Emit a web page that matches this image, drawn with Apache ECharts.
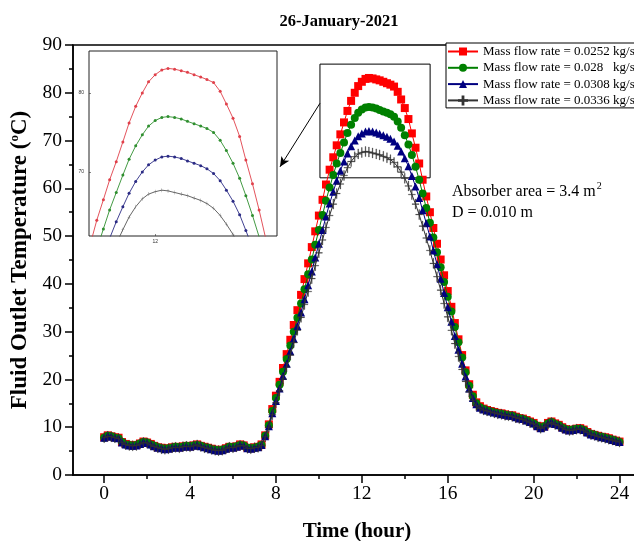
<!DOCTYPE html>
<html><head><meta charset="utf-8">
<script src="https://cdn.jsdelivr.net/npm/echarts@6/dist/echarts.min.js"></script>
<style>html,body{margin:0;padding:0;background:#fff}#c{width:634px;height:541px}</style>
</head><body><div id="c"></div>
<script>
// ---- data ----
const hours = [0,0.17,0.33,0.5,0.67,0.83,1,1.17,1.33,1.5,1.67,1.83,2,2.17,2.33,2.5,2.67,2.83,3,3.17,3.33,3.5,3.67,3.83,4,4.17,4.33,4.5,4.67,4.83,5,5.17,5.33,5.5,5.67,5.83,6,6.17,6.33,6.5,6.67,6.83,7,7.17,7.33,7.5,7.67,7.83,8,8.17,8.33,8.5,8.67,8.83,9,9.17,9.33,9.5,9.67,9.83,10,10.17,10.33,10.5,10.67,10.83,11,11.17,11.33,11.5,11.67,11.83,12,12.17,12.33,12.5,12.67,12.83,13,13.17,13.33,13.5,13.67,13.83,14,14.17,14.33,14.5,14.67,14.83,15,15.17,15.33,15.5,15.67,15.83,16,16.17,16.33,16.5,16.67,16.83,17,17.17,17.33,17.5,17.67,17.83,18,18.17,18.33,18.5,18.67,18.83,19,19.17,19.33,19.5,19.67,19.83,20,20.17,20.33,20.5,20.67,20.83,21,21.17,21.33,21.5,21.67,21.83,22,22.17,22.33,22.5,22.67,22.83,23,23.17,23.33,23.5,23.67,23.83,24];
const seriesNames = ['Mass flow rate = 0.0252 kg/s','Mass flow rate = 0.028   kg/s','Mass flow rate = 0.0308 kg/s','Mass flow rate = 0.0336 kg/s'];
const temp0252 = [7.9,8.3,8.1,7.9,7.8,6.9,6.5,6.3,6.2,6.3,6.6,7.0,6.8,6.5,6.1,5.8,5.7,5.5,5.6,5.8,5.9,5.8,6.0,6.1,6.0,6.2,6.4,6.1,5.9,5.7,5.5,5.3,5.2,5.3,5.6,5.9,5.8,6.0,6.4,6.2,5.7,5.6,5.8,5.9,6.4,
 8.3,10.6,13.8,16.6,19.5,22.4,25.3,28.3,31.4,34.5,37.7,41.0,44.3,47.7,51.0,54.3,57.6,60.8,63.9,66.5,69.0,71.3,73.8,76.2,78.3,80.0,81.4,82.3,82.9,83.1,83.0,82.8,82.6,82.3,82.0,81.7,81.3,80.2,78.6,76.8,74.5,71.5,68.5,65.2,61.8,58.3,55.0,51.7,48.4,45.1,41.8,38.5,35.2,31.8,28.4,25.1,21.9,19.0,16.8,15.2,
 14.4,13.9,13.6,13.4,13.2,13.0,12.9,12.7,12.5,12.5,12.2,11.9,11.8,11.5,11.2,10.9,10.3,9.9,10.2,10.9,11.2,10.8,10.5,10.0,9.6,9.4,9.5,9.7,9.8,9.5,9.0,8.6,8.4,8.2,8.0,7.9,7.7,7.4,7.2,7.0];
const temp0280 = [7.8,8.2,8.1,7.8,7.7,6.9,6.4,6.3,6.1,6.3,6.6,6.9,6.8,6.4,6.1,5.8,5.6,5.5,5.6,5.7,5.9,5.8,5.9,6.1,6.0,6.2,6.3,6.1,5.8,5.7,5.4,5.3,5.2,5.3,5.5,5.9,5.8,6.0,6.3,6.2,5.7,5.6,5.7,5.9,6.3,
 8.2,10.4,13.4,16.1,18.9,21.6,24.3,27.1,30.0,32.9,35.9,38.9,42.0,45.1,48.2,51.3,54.4,57.4,60.2,62.8,65.2,67.4,69.6,71.6,73.3,74.7,75.8,76.5,76.9,77.0,76.9,76.7,76.4,76.1,75.8,75.5,75.0,74.0,72.7,71.1,69.2,67.0,64.5,61.8,58.9,55.9,52.8,49.7,46.6,43.5,40.4,37.3,34.2,31.0,27.8,24.6,21.5,18.7,16.5,15.0,
 14.2,13.8,13.5,13.3,13.1,12.9,12.8,12.6,12.5,12.4,12.1,11.9,11.7,11.4,11.1,10.8,10.3,9.9,10.2,10.8,11.1,10.7,10.4,9.9,9.6,9.4,9.5,9.7,9.7,9.4,8.9,8.6,8.4,8.1,8.0,7.8,7.6,7.4,7.1,6.9];
const temp0308 = [7.8,8.2,8.0,7.8,7.7,6.8,6.4,6.2,6.1,6.2,6.5,6.9,6.7,6.4,6.0,5.7,5.6,5.4,5.5,5.7,5.8,5.7,5.9,6.0,5.9,6.1,6.3,6.0,5.8,5.6,5.4,5.2,5.1,5.2,5.5,5.8,5.7,5.9,6.3,6.1,5.6,5.5,5.7,5.8,6.3,
 8.1,10.2,12.9,15.5,18.1,20.7,23.3,25.9,28.5,31.2,34.0,36.8,39.7,42.6,45.5,48.4,51.3,54.1,56.8,59.3,61.6,63.7,65.6,67.3,68.8,70.0,70.9,71.5,71.9,72.0,71.9,71.7,71.4,71.1,70.8,70.4,69.8,68.9,67.7,66.3,64.6,62.6,60.4,58.0,55.4,52.7,49.9,47.0,44.1,41.1,38.1,35.1,32.1,29.1,26.2,23.3,20.6,18.1,16.1,14.8,
 14.1,13.7,13.5,13.3,13.1,12.9,12.7,12.6,12.4,12.4,12.1,11.8,11.7,11.4,11.1,10.8,10.2,9.8,10.1,10.8,11.1,10.7,10.4,9.9,9.5,9.3,9.4,9.6,9.7,9.4,8.9,8.5,8.3,8.1,7.9,7.8,7.6,7.3,7.1,6.9];
const temp0336 = [7.8,8.1,8.0,7.8,7.6,6.8,6.4,6.2,6.1,6.2,6.5,6.8,6.7,6.3,6.0,5.7,5.5,5.4,5.5,5.7,5.8,5.7,5.9,6.0,5.9,6.1,6.3,6.0,5.7,5.6,5.4,5.2,5.1,5.2,5.5,5.8,5.7,5.9,6.2,6.1,5.6,5.5,5.7,5.8,6.2,
 8.0,10.0,12.6,15.1,17.6,20.1,22.6,25.1,27.7,30.3,33.0,35.7,38.4,41.1,43.8,46.5,49.2,51.8,54.3,56.7,58.9,60.9,62.7,64.3,65.6,66.6,67.2,67.5,67.7,67.6,67.4,67.2,67.0,66.7,66.4,66.0,65.4,64.5,63.4,62.1,60.5,58.7,56.7,54.5,52.1,49.6,47.0,44.3,41.5,38.7,35.9,33.1,30.3,27.5,24.8,22.1,19.6,17.4,15.6,14.5,
 14.0,13.6,13.4,13.2,13.0,12.8,12.7,12.5,12.4,12.3,12.0,11.8,11.6,11.3,11.0,10.7,10.2,9.8,10.1,10.7,11.0,10.6,10.3,9.9,9.5,9.3,9.4,9.6,9.6,9.3,8.9,8.5,8.3,8.0,7.9,7.7,7.5,7.3,7.1,6.9];
const xTickValues = [0,4,8,12,16,20,24];
const xMinorTickValues = [2,6,10,14,18,22];
const insetXTicks = [12];
const insetYTicks = [70,80];
const zoomBoxX = [10.05, 15.18];
const zoomBoxY = [62.2, 86];
const arrowFrom = [10.05, 77.8];
const arrowTo = [8.19, 64.5];

// ---- chart ----
const serif = "'Liberation Serif','Times New Roman',serif";
const allTemps = [temp0252, temp0280, temp0308, temp0336];
const mainColors = ['#ff0000', '#008000', '#000080', '#333333'];
const insetColors = ['#e0404a', '#2f8f2f', '#2b2b85', '#555555'];
const plusPath = 'path://M9,0h2v20h-2zM0,9.4h20v1.2H0z';
const symbols = ['rect', 'circle', 'triangle', plusPath];
const mainSizes = [8, 8, 8, [7, 10]];
function pairs(v) { return hours.map((h, i) => [h, v[i]]); }

const series = [];
allTemps.forEach((v, k) => {
  const s = {
    name: seriesNames[k], type: 'line', xAxisIndex: 0, yAxisIndex: 0,
    data: pairs(v), symbol: symbols[k], symbolSize: mainSizes[k], showAllSymbol: true,
    lineStyle: { color: mainColors[k], width: 1 },
    itemStyle: { color: mainColors[k], borderWidth: 0 },
    z: 2 + k
  };
  if (k === 3) s.itemStyle = { color: mainColors[k], borderColor: mainColors[k], borderWidth: 0.3 };
  if (k === 0) {
    s.markArea = { silent: true, itemStyle: { color: 'rgba(0,0,0,0)', borderColor: '#000', borderWidth: 1 },
      data: [[{ coord: [zoomBoxX[0], zoomBoxY[1]] }, { coord: [zoomBoxX[1], zoomBoxY[0]] }]] };
    s.markLine = { silent: true, symbol: ['none', 'arrow'], symbolSize: [7, 10], label: { show: false },
      lineStyle: { color: '#000', width: 1, type: 'solid' },
      data: [[{ coord: arrowFrom }, { coord: arrowTo }]] };
  }
  series.push(s);
});
allTemps.forEach((v, k) => {
  series.push({
    name: 'inset' + k, type: 'line', xAxisIndex: 1, yAxisIndex: 1, clip: true,
    data: pairs(v), symbol: k === 3 ? plusPath : 'circle', symbolSize: k === 3 ? [3, 4] : 3, showAllSymbol: true,
    lineStyle: { color: insetColors[k], width: 0.9 },
    itemStyle: { color: insetColors[k] }, z: 10 + k
  });
});

const option = {
  animation: false,
  backgroundColor: '#fff',
  title: { text: '26-January-2021', left: 334, top: 8, textAlign: 'center',
    textStyle: { fontFamily: serif, fontWeight: 'bold', fontSize: 16.5, color: '#000' } },
  legend: {
    data: seriesNames, orient: 'vertical', left: 446, top: 43,
    itemWidth: 30, itemHeight: 10, itemGap: 3.3, padding: [2, 2, 1, 1],
    borderColor: '#000', borderWidth: 1, backgroundColor: '#fff',
    textStyle: { fontFamily: serif, fontSize: 13, color: '#000' }
  },
  grid: [
    { left: 73, top: 45, right: -7, bottom: 66, outerBoundsMode: 'none', containLabel: false, show: true, borderColor: '#000', borderWidth: 1.5, backgroundColor: 'transparent' },
    { left: 89, top: 51, width: 188, height: 185, outerBoundsMode: 'none', containLabel: false, show: true, borderColor: '#222', borderWidth: 1, backgroundColor: '#fff' },
    { left: 73, top: 45, right: -7, bottom: 66, outerBoundsMode: 'none', containLabel: false, show: false }
  ],
  xAxis: [
    { gridIndex: 0, type: 'value', min: -1.45, max: 25,
      axisLine: { onZero: false, lineStyle: { color: '#000', width: 1.5 } },
      axisTick: { customValues: xTickValues, length: 8, lineStyle: { color: '#000', width: 1.5 } },
      axisLabel: { customValues: xTickValues, fontFamily: serif, fontSize: 19.5, color: '#000', margin: 9 },
      splitLine: { show: false },
      name: 'Time (hour)', nameLocation: 'middle', nameGap: 46,
      nameTextStyle: { fontFamily: serif, fontWeight: 'bold', fontSize: 21, color: '#000' } },
    { gridIndex: 1, type: 'value', min: 10.3, max: 15.13,
      axisLine: { show: false },
      axisTick: { customValues: insetXTicks, length: 2, inside: true, lineStyle: { color: '#333', width: 0.6 } },
      axisLabel: { customValues: insetXTicks, fontSize: 5, color: '#333', margin: 3 },
      splitLine: { show: false } },
    { gridIndex: 2, type: 'value', min: -1.45, max: 25,
      axisLine: { show: false, onZero: false },
      axisTick: { customValues: xMinorTickValues, length: 4, lineStyle: { color: '#000', width: 1.5 } },
      axisLabel: { show: false }, splitLine: { show: false } }
  ],
  yAxis: [
    { gridIndex: 0, type: 'value', min: 0, max: 90, interval: 10,
      axisLine: { show: true, onZero: false, lineStyle: { color: '#000', width: 1.5 } },
      axisTick: { show: true, length: 8, lineStyle: { color: '#000', width: 1.5 } },
      minorTick: { show: true, splitNumber: 2, length: 4, lineStyle: { color: '#000', width: 1.5 } },
      axisLabel: { fontFamily: serif, fontSize: 19.5, color: '#000', margin: 11 },
      splitLine: { show: false },
      name: '{b|Fluid Outlet Temperature (}{s|o}{b|C)}', nameLocation: 'middle', nameGap: 37,
      nameTextStyle: { rich: {
        b: { fontFamily: serif, fontWeight: 'bold', fontSize: 23, color: '#000' },
        s: { fontFamily: serif, fontWeight: 'bold', fontSize: 13, color: '#000', verticalAlign: 'top', padding: [0, 0, 10, 0] } } } },
    { gridIndex: 1, type: 'value', min: 61.9, max: 85.3,
      axisLine: { show: false, onZero: false },
      axisTick: { customValues: insetYTicks, length: 2, inside: true, lineStyle: { color: '#333', width: 0.6 } },
      axisLabel: { customValues: insetYTicks, fontSize: 5, color: '#333', margin: 5 },
      splitLine: { show: false } },
    { gridIndex: 2, type: 'value', min: 0, max: 90, show: false }
  ],
  graphic: [
    { type: 'text', left: 452, top: 181, style: {
      text: '{a|Absorber area = 3.4 m}{s|2}\n{a|D = 0.010 m}',
      rich: { a: { fontFamily: serif, fontSize: 16, color: '#000', lineHeight: 21 },
              s: { fontFamily: serif, fontSize: 10, color: '#000', verticalAlign: 'top', lineHeight: 21, padding: [0, 0, 9, 1] } } } }
  ],
  series: series
};
const chart = echarts.init(document.getElementById('c'), null, { renderer: 'canvas' });
chart.setOption(option);
</script>
</body></html>
